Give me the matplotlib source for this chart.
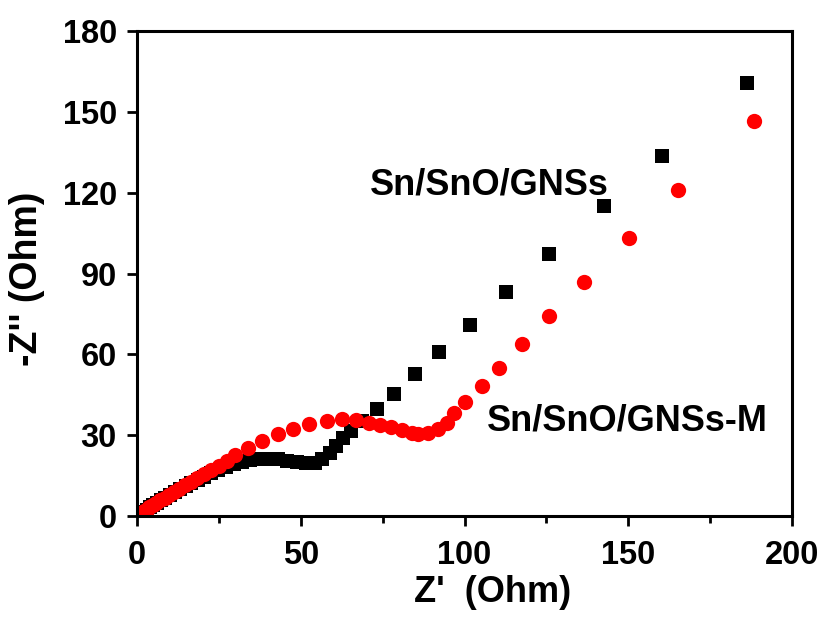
import numpy as np
import matplotlib.pyplot as plt

# ==== Data ====
zre_gns = [1.0, 1.6, 2.3, 3.1, 4.0, 5.0, 6.1, 7.3, 8.6, 10.0, 11.5, 13.1, 14.8,
           16.6, 18.5, 20.5, 22.6, 24.8, 27.1, 29.5, 32.0, 34.6, 37.3, 40.1,
           43.0, 45.9, 48.8, 51.6, 54.2, 56.6, 58.8, 60.9, 63.0, 65.4, 68.6,
           73.2, 78.4, 84.8, 92.3, 101.7, 112.6, 125.8, 142.6, 160.4, 186.2]
zim_gns = [0.3, 0.9, 1.6, 2.4, 3.2, 4.0, 4.9, 5.8, 6.8, 7.8, 8.9, 10.0, 11.1,
           12.2, 13.4, 14.6, 15.8, 17.0, 18.1, 19.2, 20.1, 20.8, 21.2, 21.3,
           21.0, 20.5, 19.9, 19.5, 19.8, 21.2, 23.4, 26.0, 28.8, 31.6, 35.2,
           39.6, 45.3, 52.6, 60.9, 70.9, 83.0, 97.3, 115.1, 133.7, 160.6]

zre_m = [0.8, 1.4, 2.1, 2.9, 3.8, 4.8, 5.9, 7.1, 8.4, 9.8, 11.3, 12.9, 14.6,
         16.4, 18.3, 20.3, 22.5, 24.9, 27.4, 29.9, 34.0, 38.3, 43.0, 47.7,
         52.6, 58.1, 62.7, 66.9, 70.9, 74.2, 77.6, 80.8, 83.9, 85.9, 88.9,
         92.0, 94.6, 96.9, 100.2, 105.2, 110.5, 117.5, 125.8, 136.5, 150.3,
         165.3, 188.5]
zim_m = [0.3, 1.0, 1.7, 2.4, 3.2, 4.0, 4.9, 5.8, 6.8, 7.9, 9.0, 10.2, 11.5,
         12.8, 14.2, 15.6, 17.1, 18.7, 20.6, 22.6, 25.1, 27.8, 30.4, 32.2,
         34.0, 35.4, 35.9, 35.6, 34.4, 33.8, 33.1, 31.9, 30.9, 30.4, 30.9,
         32.2, 34.6, 38.3, 42.4, 48.4, 54.9, 63.7, 74.2, 87.0, 103.3,
         120.9, 146.6]

xticks = [0, 50, 100, 150, 200]
yticks = [0, 30, 60, 90, 120, 150, 180]

plt.rcParams['font.family'] = ['Liberation Sans', 'DejaVu Sans']
plt.rcParams['font.weight'] = 'bold'

fig = plt.figure(figsize=(8.24, 6.18), dpi=100)
ax = fig.add_axes([0.1663, 0.165, 0.7949, 0.7848])

ax.plot(zre_gns, zim_gns, 's', color='black', markersize=9.5, markeredgewidth=0)
ax.plot(zre_m, zim_m, 'o', color='red', markersize=11, markeredgewidth=0)

ax.set_xlim(0, 200)
ax.set_ylim(0, 180)
ax.set_xticks(xticks)
ax.set_yticks(yticks)
ax.set_xticks([25, 75, 125, 175], minor=True)
ax.tick_params(which='both', direction='out', width=2, labelsize=23.5)
ax.tick_params(axis='x', which='major', pad=10.5)
ax.tick_params(axis='y', which='major', pad=7.5)
ax.tick_params(which='major', length=7)
ax.tick_params(which='minor', length=5)
for lab in ax.get_xticklabels() + ax.get_yticklabels():
    lab.set_fontweight('bold')
for s in ax.spines.values():
    s.set_linewidth(2.2)

ax.set_xlabel("Z'  (Ohm)", fontsize=26, fontweight='bold')
ax.set_ylabel("-Z'' (Ohm)", fontsize=27, fontweight='bold')
ax.xaxis.set_label_coords(0.5435, -0.122)
ax.yaxis.set_label_coords(-0.14, 0.489)

ax.text(71.1, 119.2, 'Sn/SnO/GNSs', fontsize=26, fontweight='bold')
ax.text(106.8, 31.9, 'Sn/SnO/GNSs-M', fontsize=26, fontweight='bold')

fig.savefig('out.png', dpi=100)
